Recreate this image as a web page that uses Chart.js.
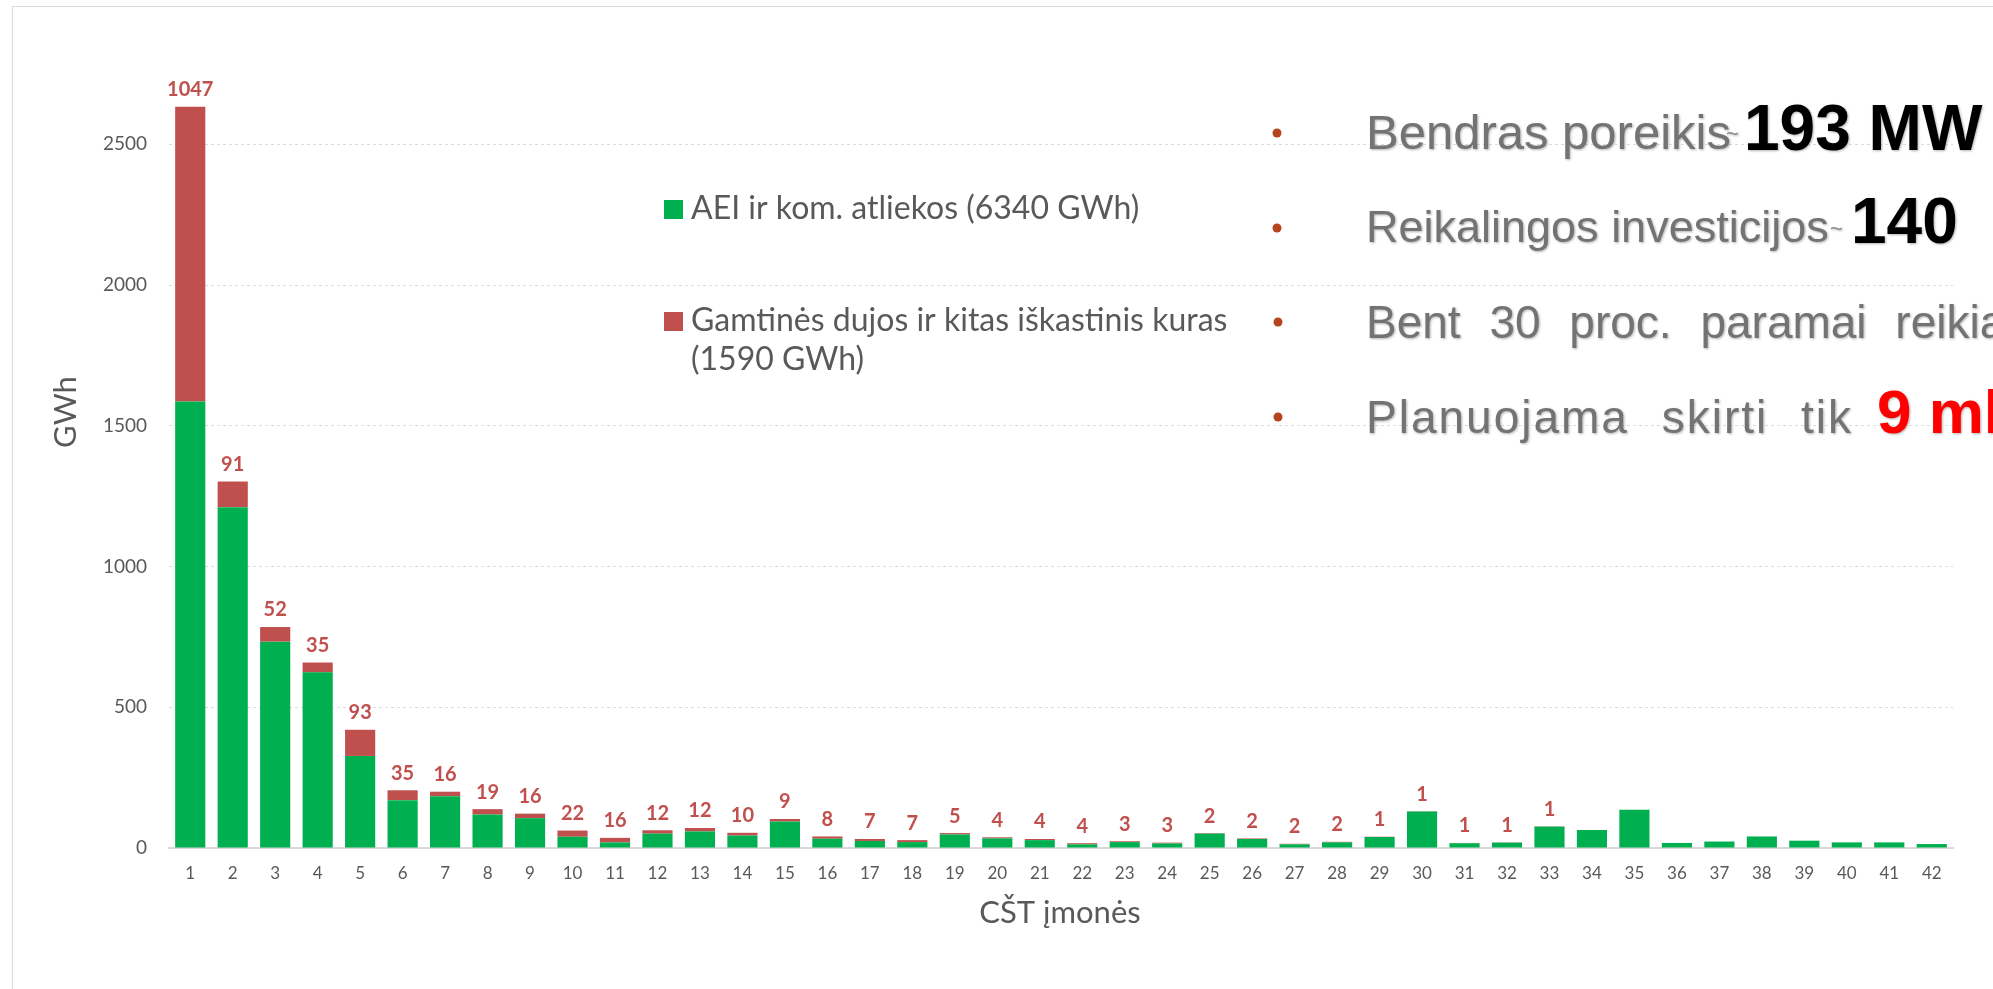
<!DOCTYPE html>
<html lang="lt">
<head>
<meta charset="utf-8">
<title>CŠT įmonės</title>
<script src="https://cdn.jsdelivr.net/npm/chart.js@4.4.1/dist/chart.umd.min.js"></script>
<style>
    html, body { margin: 0; padding: 0; background: #fff; }
    body { width: 1993px; height: 989px; position: relative; overflow: hidden; }
    #remelis {
        position: absolute; left: 12px; top: 6px; right: -20px; bottom: -20px;
        border-top: 1px solid #d9d9d9; border-left: 1px solid #d9d9d9;
    }
    #grafikas { position: absolute; left: 0; top: 0; }
    #punktai { position: absolute; left: 0; top: 0; pointer-events: none; }
    #punktai text { font-family: "Liberation Sans", Arial, sans-serif; }
    .pilkas { fill: #737373; font-size: 46px; }
    .tilde  { fill: #8a8a8a; font-size: 22px; }
    .skaic  { fill: #000; font-size: 64px; font-weight: bold; }
    .raud   { fill: #ff0000; font-size: 62px; font-weight: bold; }
</style>
</head>
<body>
<div id="remelis"></div>
<canvas id="grafikas" width="1993" height="989"></canvas>

<svg id="punktai" width="1993" height="989">
    <g fill="#b5431d">
        <circle cx="1277" cy="133" r="4.5"/>
        <circle cx="1277" cy="228" r="4.5"/>
        <circle cx="1278" cy="322" r="4.5"/>
        <circle cx="1278" cy="417" r="4.5"/>
    </g>
    <g style="filter: drop-shadow(1px 1px 1px rgba(0,0,0,0.3))">
        <text y="149"><tspan x="1366" class="pilkas" style="font-size:49px">Bendras poreikis</tspan><tspan x="1726" y="141" class="tilde">~</tspan><tspan x="1744" y="150" class="skaic">193 MW</tspan></text>
        <text y="242"><tspan x="1366" class="pilkas" style="font-size:45px">Reikalingos investicijos</tspan><tspan x="1830" y="236" class="tilde">~</tspan><tspan x="1851" y="243" class="skaic">140</tspan></text>
        <text y="338"><tspan x="1366" class="pilkas" style="word-spacing:16px">Bent 30 proc. paramai reikia</tspan></text>
        <text y="433"><tspan x="1366" class="pilkas" style="word-spacing:18px;letter-spacing:2px">Planuojama skirti tik</tspan><tspan x="1877" class="raud">9 mln</tspan></text>
    </g>
</svg>

<script>
// Šilumos gamyba CŠT įmonėse pagal kuro rūšį, GWh
const imones = ['1','2','3','4','5','6','7','8','9','10','11','12','13','14','15','16','17','18','19','20','21',
                '22','23','24','25','26','27','28','29','30','31','32','33','34','35','36','37','38','39','40','41','42'];
const aeiAtliekos = [1586, 1211, 733, 624, 327, 170, 184, 119, 106, 40, 20, 51, 59, 44, 94, 33, 25, 21, 48, 34, 28,
                     13, 21, 16, 51, 32, 13, 20, 39, 130, 17, 19, 76, 64, 136, 18, 23, 41, 26, 20, 20, 14];
const dujosKuras  = [1047, 91, 52, 35, 93, 35, 16, 19, 16, 22, 16, 12, 12, 10, 9, 8, 7, 7, 5, 4, 4,
                     4, 3, 3, 2, 2, 2, 2, 1, 1, 1, 1, 1, 0, 0, 0, 0, 0, 0, 0, 0, 0];
const yZymes = [0, 500, 1000, 1500, 2000, 2500];
const serijos = ['AEI ir kom. atliekos (6340 GWh)', 'Gamtinės dujos ir kitas iškastinis kuras (1590 GWh)'];

const ZALIA = '#00b050';
const RAUDONA = '#c0504d';
const PILKA = '#595959';

// raudonos skaičių etiketės virš stulpelių
const dujuEtiketes = {
    id: 'dujuEtiketes',
    afterDatasetsDraw(chart) {
        const { ctx, scales: { x, y } } = chart;
        ctx.save();
        ctx.font = 'bold 20px Lato';
        ctx.fillStyle = RAUDONA;
        ctx.textAlign = 'center';
        ctx.textBaseline = 'middle';
        dujosKuras.forEach((v, i) => {
            if (!v) return;
            const virsus = y.getPixelForValue(aeiAtliekos[i] + v);
            ctx.fillText(String(v), x.getPixelForValue(i), virsus - 17);
        });
        ctx.restore();
    }
};

// legenda ir ašių pavadinimai
const uzrasai = {
    id: 'uzrasai',
    afterDraw(chart) {
        const ctx = chart.ctx;
        const ds = chart.data.datasets;
        ctx.save();
        ctx.font = '32px Lato';
        ctx.textBaseline = 'middle';
        ctx.textAlign = 'left';

        ctx.fillStyle = ds[0].backgroundColor;
        ctx.fillRect(664, 200, 19, 19);
        ctx.fillStyle = PILKA;
        ctx.fillText(ds[0].label, 691, 209);

        const dalys = ds[1].label.split(' (');
        ctx.fillStyle = ds[1].backgroundColor;
        ctx.fillRect(664, 312, 19, 19);
        ctx.fillStyle = PILKA;
        ctx.fillText(dalys[0], 691, 321);
        ctx.fillText('(' + dalys[1], 691, 360);

        ctx.font = '31px Lato';
        ctx.textAlign = 'center';
        ctx.fillText('CŠT įmonės', 1060, 913);

        ctx.translate(66, 412);
        ctx.rotate(-Math.PI / 2);
        ctx.fillText('GWh', 0, 0);
        ctx.restore();
    }
};

new Chart(document.getElementById('grafikas'), {
    type: 'bar',
    data: {
        labels: imones,
        datasets: [
            { label: serijos[0], data: aeiAtliekos, backgroundColor: ZALIA },
            { label: serijos[1], data: dujosKuras, backgroundColor: RAUDONA }
        ]
    },
    options: {
        responsive: false,
        animation: false,
        layout: { padding: { left: 0, top: 88, right: 40, bottom: 0 } },
        datasets: { bar: { categoryPercentage: 1, barPercentage: 0.71 } },
        plugins: { legend: { display: false }, tooltip: { enabled: false } },
        scales: {
            x: {
                stacked: true,
                grid: { display: false, drawTicks: false },
                border: { color: '#d9d9d9', width: 2 },
                ticks: { color: PILKA, font: { family: 'Lato', size: 17 }, padding: 15, maxRotation: 0, autoSkip: false },
                afterFit: a => { a.height = 141; }
            },
            y: {
                stacked: true,
                min: 0,
                max: 2700,
                afterBuildTicks: a => { a.ticks = yZymes.map(v => ({ value: v })); },
                grid: { color: '#dcdcdc', drawTicks: false },
                border: { display: false, dash: [3, 3] },
                ticks: { color: PILKA, font: { family: 'Lato', size: 19 }, padding: 22, callback: v => String(v) },
                afterFit: a => { a.width = 169; }
            }
        }
    },
    plugins: [dujuEtiketes, uzrasai]
});
</script>
</body>
</html>
